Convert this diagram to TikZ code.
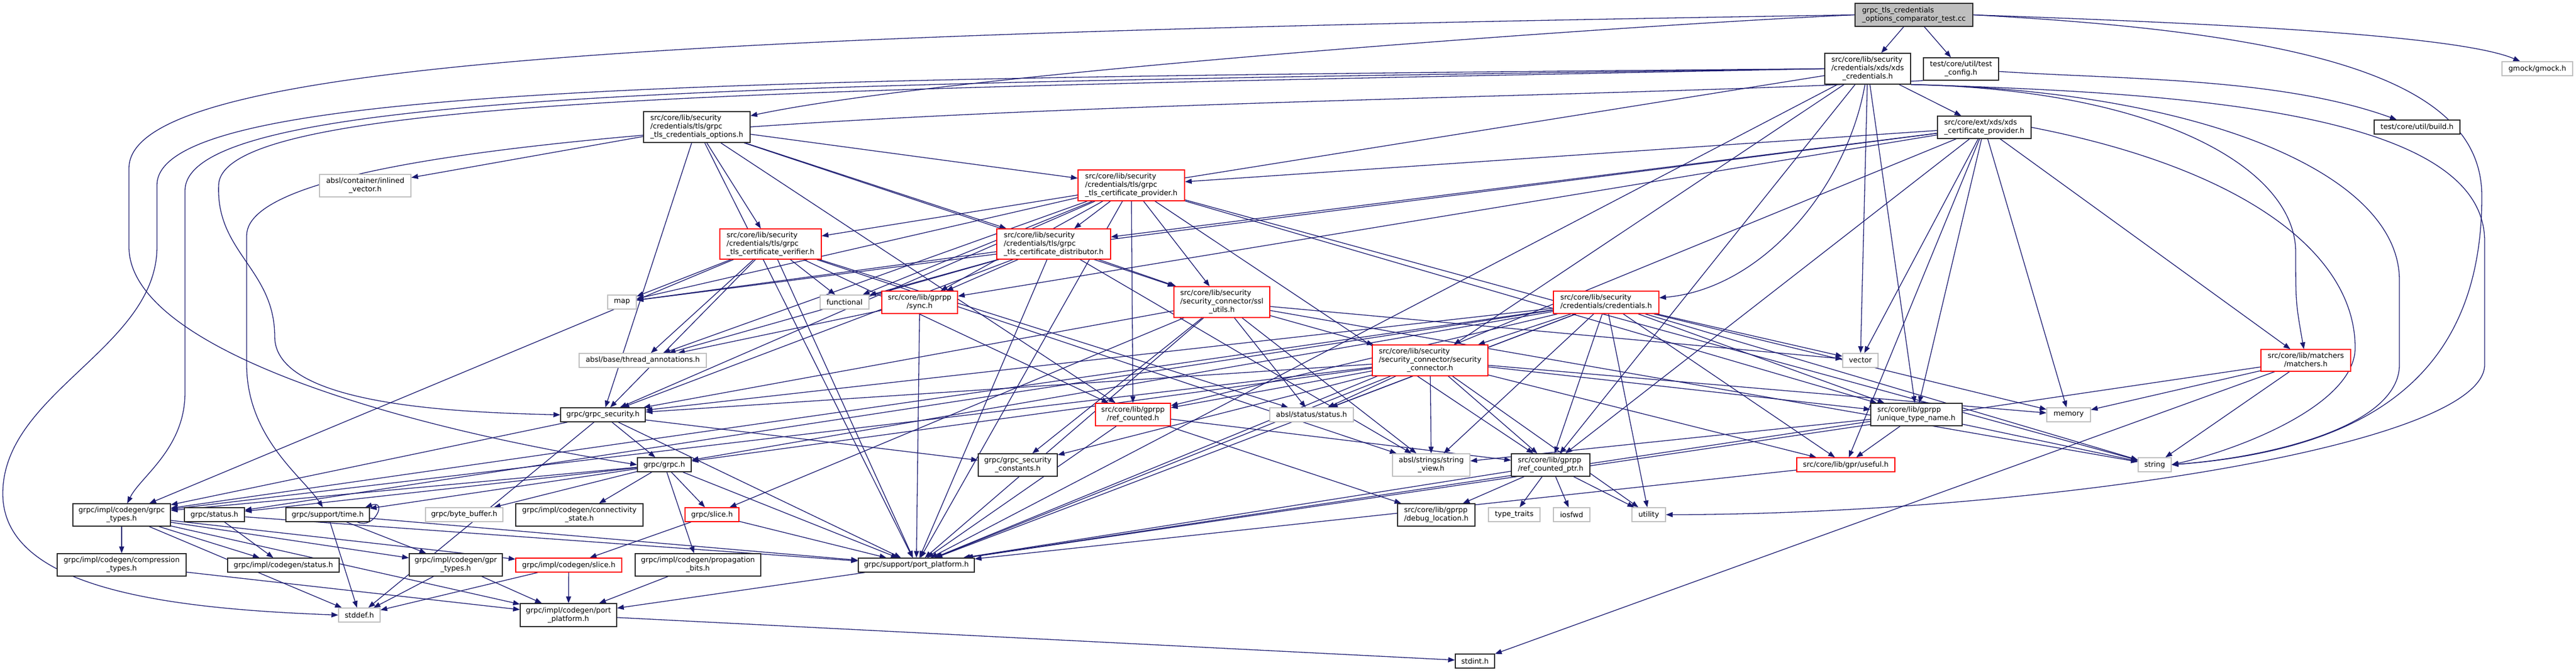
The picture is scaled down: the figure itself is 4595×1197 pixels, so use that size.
\documentclass[tikz,border=0pt]{standalone}
\usepackage{fontspec}
\setmainfont{DejaVu Sans}
\usetikzlibrary{arrows.meta}
\definecolor{edgec}{RGB}{25,25,112}
\definecolor{grayb}{RGB}{191,191,191}
\definecolor{blackb}{RGB}{40,40,40}
\newcommand\LL[1]{\begin{tabular}{@{}l@{}}#1\end{tabular}}
\newcommand\CC[1]{\multicolumn{1}{@{}c@{}}{#1}}
\pgfdeclarelayer{bg}
\pgfdeclarelayer{paper}
\pgfsetlayers{paper,bg,main}
\begin{document}
\begin{tikzpicture}[x=1pt,y=1pt,
  box/.style={draw, fill=white, inner sep=0pt, line width=1.4pt, font=\fontsize{12.9}{15}\selectfont},
  nb/.style={box, draw=blackb},
  nr/.style={box, draw=red},
  ng/.style={box, draw=grayb},
  edg/.style={draw=edgec, line width=1.3pt, -{Triangle[length=12pt,width=9pt]}},
]
\begin{pgfonlayer}{paper}
\fill[white] (0,0) rectangle (4595,-1197);
\end{pgfonlayer}
\useasboundingbox (0,0) rectangle (4595,-1197);

% rank 0
\node[nb, fill=grayb, minimum width=210pt, minimum height=41pt] (n0) at (3414,-26.5) {\LL{grpc\_tls\_credentials\\\CC{\_options\_comparator\_test.cc}}};
% rank 1
\node[nb, minimum width=153pt, minimum height=55pt] (n1) at (3331.5,-122.5) {\LL{src/core/lib/security\\/credentials/xds/xds\\\CC{\_credentials.h}}};
\node[nb, minimum width=134pt, minimum height=40pt] (n2) at (3498,-123) {\LL{test/core/util/test\\\CC{\_config.h}}};
\node[ng, minimum width=126pt, minimum height=25pt] (n3) at (4526,-122.5) {gmock/gmock.h};
% rank 2
\node[nb, minimum width=190pt, minimum height=55pt] (n4) at (1243,-226.5) {\LL{src/core/lib/security\\/credentials/tls/grpc\\\CC{\_tls\_credentials\_options.h}}};
\node[nb, minimum width=167pt, minimum height=40pt] (n5) at (3539.5,-227) {\LL{src/core/ext/xds/xds\\\CC{\_certificate\_provider.h}}};
\node[nb, minimum width=153pt, minimum height=25pt] (n6) at (4311.5,-226.5) {test/core/util/build.h};
% rank 3
\node[ng, minimum width=163pt, minimum height=40pt] (n7) at (651.5,-331) {\LL{absl/container/inlined\\\CC{\_vector.h}}};
\node[nr, minimum width=190pt, minimum height=55pt] (n8) at (2018,-330.5) {\LL{src/core/lib/security\\/credentials/tls/grpc\\\CC{\_tls\_certificate\_provider.h}}};
% rank 4
\node[nr, minimum width=181pt, minimum height=54pt] (n9) at (1374.5,-435) {\LL{src/core/lib/security\\/credentials/tls/grpc\\\CC{\_tls\_certificate\_verifier.h}}};
\node[nr, minimum width=203pt, minimum height=54pt] (n10) at (1879.5,-435) {\LL{src/core/lib/security\\/credentials/tls/grpc\\\CC{\_tls\_certificate\_distributor.h}}};
% rank 5
\node[ng, minimum width=51pt, minimum height=25pt] (n11) at (1109.5,-538.5) {map};
\node[ng, minimum width=87pt, minimum height=25pt] (n12) at (1506.5,-538.5) {functional};
\node[nr, minimum width=135pt, minimum height=40pt] (n13) at (1640.5,-539) {\LL{src/core/lib/gprpp\\\CC{/sync.h}}};
\node[nr, minimum width=171pt, minimum height=55pt] (n14) at (2179.5,-538.5) {\LL{src/core/lib/security\\/security\_connector/ssl\\\CC{\_utils.h}}};
\node[nr, minimum width=188pt, minimum height=40pt] (n15) at (2865,-539) {\LL{src/core/lib/security\\\CC{/credentials/credentials.h}}};
% rank 6
\node[ng, minimum width=227pt, minimum height=25pt] (n16) at (1146.5,-642.5) {absl/base/thread\_annotations.h};
\node[nr, minimum width=206pt, minimum height=55pt] (n17) at (2551,-642.5) {\LL{src/core/lib/security\\/security\_connector/security\\\CC{\_connector.h}}};
\node[ng, minimum width=63pt, minimum height=25pt] (n18) at (3318.5,-642.5) {vector};
\node[nr, minimum width=160pt, minimum height=39pt] (n19) at (4113,-642.5) {\LL{src/core/lib/matchers\\\CC{/matchers.h}}};
% rank 7
\node[nb, minimum width=151pt, minimum height=25pt] (n20) at (1075.5,-739.5) {grpc/grpc\_security.h};
\node[nr, minimum width=134pt, minimum height=40pt] (n21) at (2021,-739) {\LL{src/core/lib/gprpp\\\CC{/ref\_counted.h}}};
\node[ng, minimum width=149pt, minimum height=25pt] (n22) at (2339.5,-739.5) {absl/status/status.h};
\node[nb, minimum width=163pt, minimum height=40pt] (n23) at (3418.5,-739) {\LL{src/core/lib/gprpp\\\CC{/unique\_type\_name.h}}};
\node[ng, minimum width=78pt, minimum height=25pt] (n24) at (3690,-739.5) {memory};
% rank 8
\node[nb, minimum width=96pt, minimum height=25pt] (n25) at (1185,-828.5) {grpc/grpc.h};
\node[nb, minimum width=141pt, minimum height=40pt] (n26) at (1815.5,-829) {\LL{grpc/grpc\_security\\\CC{\_constants.h}}};
\node[ng, minimum width=138pt, minimum height=40pt] (n27) at (2553,-829) {\LL{absl/strings/string\\\CC{\_view.h}}};
\node[nb, minimum width=140pt, minimum height=40pt] (n28) at (2766,-829) {\LL{src/core/lib/gprpp\\\CC{/ref\_counted\_ptr.h}}};
\node[nr, minimum width=175pt, minimum height=25pt] (n29) at (3292.5,-828.5) {src/core/lib/gpr/useful.h};
\node[ng, minimum width=59pt, minimum height=25pt] (n30) at (3843.5,-828.5) {string};
% rank 9
\node[nb, minimum width=174pt, minimum height=40pt] (n31) at (217,-918) {\LL{grpc/impl/codegen/grpc\\\CC{\_types.h}}};
\node[nb, minimum width=107pt, minimum height=25pt] (n32) at (382.5,-917.5) {grpc/status.h};
\node[nb, minimum width=149pt, minimum height=25pt] (n33) at (584.5,-917.5) {grpc/support/time.h};
\node[ng, minimum width=138pt, minimum height=25pt] (n34) at (828,-917.5) {grpc/byte\_buffer.h};
\node[nb, minimum width=227pt, minimum height=40pt] (n35) at (1033.5,-918) {\LL{grpc/impl/codegen/connectivity\\\CC{\_state.h}}};
\node[nr, minimum width=96pt, minimum height=25pt] (n36) at (1270,-917.5) {grpc/slice.h};
\node[nb, minimum width=138pt, minimum height=40pt] (n37) at (2562,-918) {\LL{src/core/lib/gprpp\\\CC{/debug\_location.h}}};
\node[ng, minimum width=92pt, minimum height=25pt] (n38) at (2701,-917.5) {type\_traits};
\node[ng, minimum width=65pt, minimum height=25pt] (n39) at (2803.5,-917.5) {iosfwd};
\node[ng, minimum width=60pt, minimum height=25pt] (n40) at (2941,-917.5) {utility};
% rank 10
\node[nb, minimum width=230pt, minimum height=40pt] (n41) at (217,-1007) {\LL{grpc/impl/codegen/compression\\\CC{\_types.h}}};
\node[nb, minimum width=199pt, minimum height=25pt] (n42) at (505.5,-1007.5) {grpc/impl/codegen/status.h};
\node[nb, minimum width=166pt, minimum height=40pt] (n43) at (813,-1007) {\LL{grpc/impl/codegen/gpr\\\CC{\_types.h}}};
\node[nr, minimum width=189pt, minimum height=25pt] (n44) at (1014.5,-1007.5) {grpc/impl/codegen/slice.h};
\node[nb, minimum width=224pt, minimum height=40pt] (n45) at (1245,-1007) {\LL{grpc/impl/codegen/propagation\\\CC{\_bits.h}}};
\node[nb, minimum width=207pt, minimum height=25pt] (n46) at (1634.5,-1007.5) {grpc/support/port\_platform.h};
% rank 11
\node[ng, minimum width=74pt, minimum height=25pt] (n47) at (641,-1096.5) {stddef.h};
\node[nb, minimum width=172pt, minimum height=41pt] (n48) at (1014,-1096.5) {\LL{grpc/impl/codegen/port\\\CC{\_platform.h}}};
% rank 12
\node[nb, minimum width=70pt, minimum height=25pt] (n49) at (2631,-1178.5) {stdint.h};

\begin{pgfonlayer}{bg}
\foreach \a/\b in {n0/n1, n0/n2,
 n1/n5, n1/n9, n1/n17, n1/n18, n1/n23, n1/n28, n1/n46,
 n4/n7, n4/n8, n4/n9, n4/n10, n4/n14, n4/n20, n4/n21, n4/n46,
 n5/n8, n5/n10, n5/n11, n5/n13, n5/n18, n5/n19, n5/n23, n5/n24, n5/n28, n5/n29, n5/n46,
 n8/n10, n8/n11, n8/n12, n8/n13, n8/n14, n8/n16, n8/n20, n8/n21, n8/n23, n8/n28, n8/n30, n8/n46,
 n9/n11, n9/n12, n9/n16, n9/n20, n9/n21, n9/n22, n9/n27, n9/n31, n9/n46,
 n10/n11, n10/n12, n10/n13, n10/n14, n10/n16, n10/n20, n10/n27, n10/n46,
 n13/n16, n13/n46,
 n14/n17, n14/n18, n14/n20, n14/n22, n14/n26, n14/n27, n14/n30, n14/n36, n14/n46,
 n15/n17, n15/n18, n15/n20, n15/n21, n15/n22, n15/n23, n15/n24, n15/n25, n15/n27, n15/n28, n15/n29, n15/n30, n15/n31, n15/n32, n15/n40, n15/n46,
 n17/n20, n17/n21, n17/n22, n17/n23, n17/n24, n17/n25, n17/n26, n17/n27, n17/n28, n17/n29, n17/n31, n17/n40, n17/n46,
 n19/n24, n19/n30, n19/n46, n19/n49,
 n20/n25, n20/n26, n20/n31, n20/n46, n20/n47,
 n21/n28, n21/n37, n21/n46,
 n23/n27, n23/n29, n23/n30, n23/n46,
 n25/n31, n25/n32, n25/n33, n25/n34, n25/n35, n25/n36, n25/n45, n25/n46,
 n28/n37, n28/n38, n28/n39, n28/n40, n28/n46,
 n29/n46,
 n31/n41, n31/n42, n31/n43, n31/n44, n31/n47, n31/n48,
 n32/n42, n32/n46,
 n33/n43, n33/n46, n33/n47,
 n36/n44, n36/n46,
 n41/n48, n43/n47, n43/n48, n44/n47, n44/n48, n45/n48, n46/n48, n48/n49}
 \draw[edg] (\a) -- (\b);

% routed connectors
\draw[edg] (n0.east) .. controls (3900,-40) and (4380,-60) .. (n3);
\draw[edg] (n0.west) .. controls (2900,-45) and (1700,-130) .. (n4);
\draw[edg] (n0.west) .. controls (1200,-60) and (230,-110) .. (230,-300) -- (230,-440) .. controls (230,-620) and (700,-760) .. (n25.west);
\draw[edg] (n0.east) .. controls (4150,-60) and (4427,-150) .. (4427,-350) .. controls (4427,-650) and (4250,-800) .. (n30.east);
\draw[edg] (n1) .. controls (3295,-333) and (3144,-515) .. (n15);
\draw[edg] (n1.south east) .. controls (3850,-160) and (4095,-300) .. (4095,-450) .. controls (4095,-540) .. (n19);
\draw[edg] (n1.south east) .. controls (3900,-160) and (4280,-300) .. (4280,-500) -- (4280,-650) .. controls (4280,-760) and (4050,-815) .. (n30.east);
\draw[edg] (n1.south east) .. controls (3900,-165) and (4432,-200) .. (4432,-430) -- (4432,-650) .. controls (4432,-800) and (3600,-917) .. (n40.east);
\draw[edg] (n5.east) .. controls (4000,-300) and (4201,-450) .. (4201,-620) .. controls (4201,-720) and (4000,-800) .. (n30.east);
\draw[edg] (n1.west) .. controls (1300,-140) and (280,-150) .. (280,-330) -- (280,-440) .. controls (280,-620) and (5,-700) .. (5,-880) .. controls (5,-1050) and (300,-1085) .. (n47.west);
\draw[edg] (n1.west) .. controls (1350,-150) and (330,-160) .. (330,-340) -- (330,-700) .. controls (330,-800) and (250,-850) .. (n31);
\draw[edg] (n1.west) .. controls (1400,-160) and (395,-170) .. (390,-330) .. controls (385,-450) and (490,-480) .. (490,-600) .. controls (490,-720) and (800,-735) .. (n20.west);
\draw[edg] (n2) .. controls (3790,-142) and (4067,-138) .. (n6);
\draw[edg] (n2.south west) .. controls (2600,-190) and (440,-180) .. (440,-420) -- (440,-650) .. controls (440,-780) and (540,-850) .. (n33);
\draw[edg] ([xshift=-22pt]n33.south east) .. controls +(30,-14) and +(40,14) .. ([xshift=-8pt]n33.north east);
\end{pgfonlayer}
\end{tikzpicture}
\end{document}
